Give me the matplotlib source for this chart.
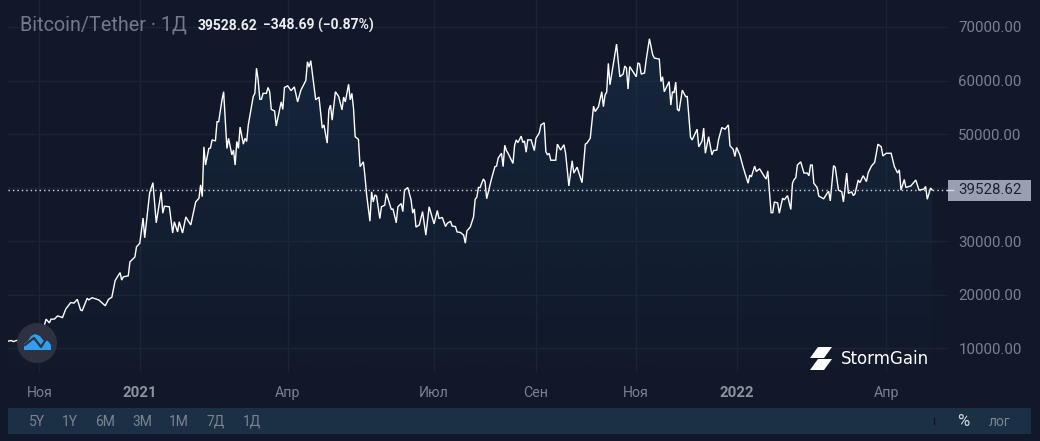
import numpy as np
import matplotlib
matplotlib.use('Agg')
import matplotlib.pyplot as plt
from matplotlib.patches import Circle, Polygon, Rectangle

plt.rcParams['font.family'] = ['Roboto', 'DejaVu Sans']

# days since 1 Nov 2020
days = [-19, -17, -16, -14, -8, -4, 3, 4, 6, 7, 9, 11, 14, 16, 19, 21, 23, 25, 26, 29, 30, 32, 36, 40, 42, 44, 46, 49,
        50, 51, 54, 55, 58, 59, 61, 63, 64, 67, 69, 71, 74, 75, 76, 79, 81, 82, 84, 85, 87, 89, 92, 95, 97, 98, 99,
        100, 101, 103, 104, 105, 107, 108, 109, 111, 112, 114, 115, 117, 118, 119, 120, 121, 122, 124, 125, 126, 127,
        130, 131, 132, 133, 134, 135, 136, 138, 139, 140, 141, 143, 144, 147, 148, 149, 151, 153, 155, 157, 159, 162,
        163, 164, 165, 168, 170, 172, 173, 175, 176, 177, 178, 180, 182, 184, 185, 186, 188, 189, 190, 191, 192, 194,
        195, 197, 198, 199, 201, 202, 203, 204, 205, 207, 208, 210, 211, 214, 215, 217, 218, 220, 221, 222, 224, 226,
        227, 228, 229, 231, 233, 235, 237, 240, 242, 243, 245, 247, 248, 250, 251, 253, 254, 256, 258, 259, 260, 262,
        264, 265, 266, 267, 268, 270, 271, 272, 275, 277, 278, 279, 281, 282, 283, 284, 285, 288, 289, 290, 291, 293,
        294, 295, 296, 297, 299, 301, 302, 304, 305, 307, 308, 309, 310, 311, 314, 315, 317, 319, 320, 322, 324, 325,
        327, 330, 332, 333, 335, 337, 338, 340, 342, 343, 344, 345, 346, 347, 351, 353, 355, 356, 357, 358, 359, 363,
        364, 365, 366, 368, 369, 371, 373, 374, 377, 378, 379, 380, 383, 384, 385, 386, 387, 388, 389, 391, 393, 394,
        396, 397, 400, 401, 403, 404, 405, 407, 409, 410, 412, 413, 415, 417, 419, 420, 422, 423, 424, 426, 428, 431,
        432, 433, 435, 436, 438, 441, 442, 443, 445, 446, 447, 449, 450, 452, 453, 455, 457, 458, 459, 460, 461, 463,
        465, 467, 468, 469, 470, 471, 473, 474, 477, 479, 480, 481, 483, 484, 486, 488, 489, 491, 492, 494, 495, 496,
        498, 499, 501, 503, 504, 506, 508, 510, 512, 513, 515, 518, 520, 522, 523, 524, 526, 527, 530, 533, 535, 538,
        539, 540, 542, 543]
prices = [11300, 11400, 11200, 11400, 11800, 12800, 14300, 15400, 14700, 15400, 15400, 16000, 15700, 17300, 18500,
          18400, 19100, 17100, 17000, 19300, 19000, 19400, 19000, 17900, 19100, 19500, 22600, 24100, 22700, 23300,
          23500, 26100, 27000, 28900, 29600, 34300, 30600, 39000, 40900, 33400, 39200, 35200, 36500, 36400, 31500,
          33600, 31700, 33600, 31500, 34500, 33000, 37300, 38000, 40500, 38300, 47600, 44200, 47300, 47400, 48900,
          48700, 52300, 52300, 56400, 57900, 47300, 49200, 46100, 47000, 44200, 48600, 47300, 51300, 48100, 49200,
          48600, 51700, 57000, 57600, 62300, 60100, 56500, 56500, 57600, 57600, 58700, 57900, 54600, 54300, 51500,
          56000, 54600, 58700, 59000, 58100, 58800, 56000, 58200, 60000, 63500, 62500, 63700, 56400, 56900, 51100,
          51700, 48300, 54500, 55400, 52600, 57900, 57000, 54500, 56900, 56000, 59300, 56400, 57600, 54800, 49500,
          49000, 43900, 44800, 42000, 38600, 33700, 39200, 37300, 38600, 38400, 34200, 36400, 36700, 38900, 35900,
          36000, 33400, 36400, 37000, 35500, 39500, 40000, 37700, 35200, 36000, 32600, 33000, 35500, 31100, 36400,
          33200, 35700, 34200, 34400, 32700, 33300, 33700, 32800, 32700, 31700, 31600, 31100, 29600, 31900, 32600,
          34500, 37800, 38200, 40000, 40000, 41600, 41100, 37900, 41700, 43900, 44000, 45500, 46400, 43900, 47900,
          46900, 46400, 44500, 47900, 48900, 48400, 49600, 48400, 48700, 46600, 48900, 48900, 46900, 49200, 50200,
          51700, 52100, 46700, 46100, 46400, 45100, 45100, 48100, 47000, 48000, 46400, 40300, 45000, 42700, 43800,
          40900, 48100, 48300, 49200, 55200, 54200, 55100, 57900, 55100, 57300, 57850, 63200, 59200, 66800, 60700,
          61200, 62700, 62300, 58400, 62600, 60700, 63300, 63100, 61200, 61400, 63800, 67800, 64800, 64200, 64000,
          59800, 60700, 57900, 59800, 55400, 57900, 57700, 59700, 54600, 54300, 58200, 57000, 57000, 49400, 48900,
          50900, 47600, 48700, 51100, 46400, 49500, 46100, 46900, 47000, 48900, 51200, 50900, 51700, 47800, 47100,
          45800, 47500, 46100, 43800, 40800, 42300, 42000, 44000, 43000, 43500, 42000, 41600, 43100, 35300, 35300,
          37300, 37100, 35200, 38000, 37700, 38500, 35900, 40800, 41500, 41800, 44200, 44800, 42700, 42700, 42200,
          44200, 44200, 40800, 40000, 38400, 37900, 38900, 39300, 37500, 44100, 43800, 39500, 39200, 37300, 42700,
          38900, 39200, 38500, 38800, 41400, 40900, 42200, 41100, 42700, 44000, 44700, 48100, 47600, 45900, 46400,
          46400, 43900, 42700, 43300, 39500, 41500, 40000, 40300, 41400, 39500, 39700, 40200, 37800, 39900, 39528.62]

last_price = 39528.62
y_ticks = [10000, 20000, 30000, 40000, 50000, 60000, 70000]
x_ticks = [0, 61, 151, 240, 302, 363, 424, 515]
x_labels = ['Ноя', '2021', 'Апр', 'Июл', 'Сен', 'Ноя', '2022', 'Апр']
buttons = ['5Y', '1Y', '6M', '3M', '1M', '7Д', '1Д']
button_x = [37, 70, 105, 142, 179, 216, 252]

bg = '#111829'
grid = '#1c2335'
muted = '#7c8191'

fig = plt.figure(figsize=(10.4, 4.41), dpi=100, facecolor=bg)
ax = fig.add_axes([8 / 1040, 1 - 372 / 441, 939.5 / 1040, 372 / 441], facecolor=bg)

y_min, y_max = 5519, 75046
x_min, x_max = -19.16, 552.3

ax.grid(True, color=grid, lw=1)
ax.set_axisbelow(True)

# gradient under the line
grad = np.zeros((256, 1, 4))
grad[..., 0] = 24 / 255
grad[..., 1] = 50 / 255
grad[..., 2] = 76 / 255
grad[:, 0, 3] = np.linspace(0.62, 0.03, 256)
poly = ax.fill_between(days, prices, y_min, color='none', lw=0)
im = ax.imshow(grad, extent=(x_min, x_max, y_min, y_max), aspect='auto', origin='upper', zorder=1.5)
im.set_clip_path(poly.get_paths()[0], transform=ax.transData)

ax.plot(days, prices, color='white', lw=1.0, zorder=3, solid_joinstyle='miter')
ax.axhline(last_price, color='#d8dbe2', lw=1, ls=(0, (1, 2.2)), zorder=4)

ax.set_xlim(x_min, x_max)
ax.set_ylim(y_min, y_max)
for s in ax.spines.values():
    s.set_visible(False)

ax.yaxis.tick_right()
ax.set_yticks(y_ticks)
# the 40000 label sits behind the last price tag in the original
ax.set_yticklabels(['' if v == 40000 else '%.2f' % v for v in y_ticks], fontsize=10.8, color=muted)
ax.set_xticks(x_ticks)
ax.set_xticklabels(x_labels, fontsize=10.2, color=muted)
ax.tick_params(axis='y', length=0, pad=7.8)
ax.tick_params(axis='x', length=0, pad=10.4)
for lab in ax.get_xticklabels():
    if lab.get_text().startswith('20'):
        lab.set_fontweight('bold')
        lab.set_fontsize(10.8)
        lab.set_color('#8e92a0')

# overlay in picture units for the chrome
ov = fig.add_axes([0, 0, 1, 1], facecolor='none')
ov.set_xlim(0, 1040)
ov.set_ylim(441, 0)
ov.axis('off')

ov.text(20, 25, 'Bitcoin/Tether · 1Д', fontsize=14.2, color='#747a8a', va='center')
ov.text(198, 25.5, '39528.62', fontsize=10, color='#eceef2', va='center', fontweight='bold')
ov.text(263, 25.5, '−348.69 (−0.87%)', fontsize=10, color='#eceef2', va='center', fontweight='bold')

# last price tag
ov.add_patch(Rectangle((948, 180), 83, 21, color='#9a9fb3', lw=0))
ov.plot([947, 953], [190, 190], color='#d8dbe2', lw=1)
ov.text(989.5, 190.5, '%.2f' % last_price, fontsize=10.8, color='#1d2233', ha='center', va='center')

# range bar
ov.add_patch(Rectangle((8, 408), 1023, 26, color='#1b3045', lw=0))
for name, bx in zip(buttons, button_x):
    ov.text(bx, 421.5, name, fontsize=10, color='#7d8390', ha='center', va='center')
ov.plot([933.5, 933.5], [418, 424], color='#0e1420', lw=1)
ov.text(963, 422, '%', fontsize=12, color='#d5d8de', ha='center', va='center')
ov.text(1000, 421.5, 'лог', fontsize=10, color='#7d8390', ha='center', va='center')

# tradingview style badge
ov.add_patch(Circle((37, 343), 20, color='#2d3140', lw=0, zorder=5))
cloud = [(24, 350), (24, 344), (28, 341), (31, 336), (35, 334), (40, 336), (43, 340), (48, 341), (51, 345), (51, 350)]
ov.add_patch(Polygon(cloud, closed=True, color='#2f9fee', lw=0, zorder=6))
ov.plot([25, 34, 41, 46], [345, 338, 347, 339], color='#2d3140', lw=1.6, zorder=7)

# StormGain mark
ov.add_patch(Polygon([(818, 347), (832, 347), (824, 358), (810, 358)], closed=True, color='white', lw=0))
ov.add_patch(Polygon([(818, 359), (832, 359), (824, 370), (810, 370)], closed=True, color='white', lw=0))
ov.text(841, 359, 'StormGain', fontsize=12, color='white', va='center', family=['DejaVu Sans'])

plt.savefig('out.png', dpi=100, facecolor=bg)
